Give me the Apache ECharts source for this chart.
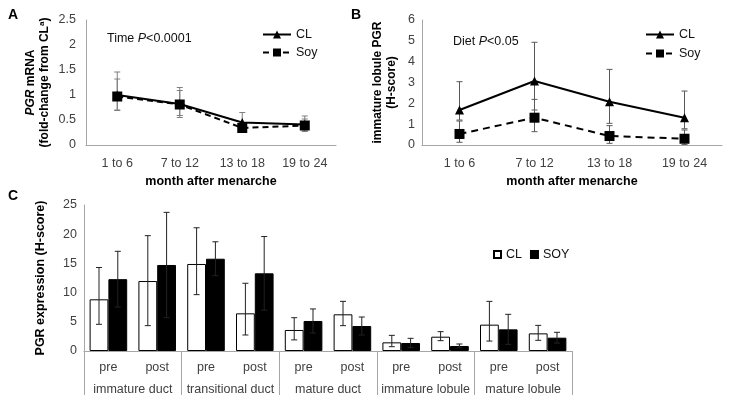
<!DOCTYPE html>
<html><head><meta charset="utf-8">
<script src="https://cdn.jsdelivr.net/npm/echarts@6/dist/echarts.min.js"></script>
<style>html,body{margin:0;padding:0;background:#fff}#c{width:731px;height:403px}</style>
</head><body><div id="c"></div>
<script>
// ---------- Data ----------
const monthCats = ['1 to 6', '7 to 12', '13 to 18', '19 to 24'];

// Panel A: PGR mRNA (fold-change from CL)
const aCL = [1.00, 0.82, 0.45, 0.41];
const aCLHi = [1.46, 1.15, 0.65, 0.58];
const aCLLo = [0.69, 0.55, 0.27, 0.28];
const aSoy = [0.97, 0.81, 0.34, 0.39];
const aSoyHi = [1.32, 1.09, 0.43, 0.52];
const aSoyLo = [0.70, 0.59, 0.25, 0.27];

// Panel B: immature lobule PGR (H-score)
const bCL = [1.68, 3.07, 2.08, 1.31];
const bCLHi = [3.04, 4.93, 3.63, 2.59];
const bCLLo = [1.20, 1.68, 1.04, 0.78];
const bSoy = [0.53, 1.31, 0.43, 0.30];
const bSoyHi = [1.15, 2.19, 0.93, 0.72];
const bSoyLo = [0.13, 0.64, 0.08, 0.02];

// Panel C: PGR expression (H-score)
const cGroups = ['immature duct', 'transitional duct', 'mature duct', 'immature lobule', 'mature lobule'];
const cSub = ['pre', 'post', 'pre', 'post', 'pre', 'post', 'pre', 'post', 'pre', 'post'];
const cCL = [8.85, 11.98, 14.9, 6.45, 3.6, 6.28, 1.48, 2.45, 4.51, 3.02];
const cCLHi = [14.3, 19.75, 21.1, 11.6, 5.7, 8.5, 2.68, 3.31, 8.5, 4.39];
const cCLLo = [4.57, 4.34, 9.65, 2.74, 1.9, 4.34, 0.74, 1.77, 1.7, 1.83];
const cSoy = [12.3, 14.73, 15.8, 13.3, 5.14, 4.28, 1.37, 0.86, 3.71, 2.28];
const cSoyHi = [17.07, 23.74, 18.7, 19.6, 7.2, 5.82, 2.17, 1.2, 6.28, 3.2];

// ---------- Chart ----------
const FF = 'Liberation Sans, Arial, sans-serif';
const AX = '#a6a6a6';
const TXT = '#404040';

function errData(lo, hi) { return lo.map((l, i) => [i, l, hi[i]]); }
function errRender(offsetFrac, cap, color, lw) {
  return function (params, api) {
    const i = api.value(0);
    const pHi = api.coord([i, api.value(2)]);
    const pLo = api.coord([i, api.value(1)]);
    const dx = offsetFrac ? api.size([1, 0])[0] * offsetFrac : 0;
    const x = pHi[0] + dx;
    const st = { stroke: color, lineWidth: lw };
    return {
      type: 'group', children: [
        { type: 'line', shape: { x1: x, y1: pHi[1], x2: x, y2: pLo[1] }, style: st },
        { type: 'line', shape: { x1: x - cap, y1: pHi[1], x2: x + cap, y2: pHi[1] }, style: st },
        { type: 'line', shape: { x1: x - cap, y1: pLo[1], x2: x + cap, y2: pLo[1] }, style: st }
      ]
    };
  };
}
function soyLo(v, hi) { return v.map((x, i) => Math.max(0, 2 * x - hi[i])); }

const labelStyle = { color: TXT, fontSize: 12.5, fontFamily: FF };
const nameStyleBold = { color: '#000', fontSize: 12.5, fontWeight: 'bold', fontFamily: FF };
const yNameStyle = { color: '#000', fontSize: 12, fontWeight: 'bold', fontFamily: FF, lineHeight: 14 };
const letterStyle = { fontSize: 14, fontWeight: 'bold', fontFamily: FF, color: '#000' };
const noteStyle = { fontSize: 12.5, fontWeight: 'normal', fontFamily: FF, color: '#111',
  rich: { i: { fontStyle: 'italic', fontSize: 12.5, fontFamily: FF, color: '#111' } } };

const option = {
  animation: false,
  textStyle: { fontFamily: FF },
  title: [
    { text: 'A', left: 3, top: 3, textStyle: letterStyle },
    { text: 'B', left: 346, top: 3, textStyle: letterStyle },
    { text: 'C', left: 3, top: 184, textStyle: letterStyle },
    { text: 'Time {i|P}<0.0001', left: 102, top: 27, textStyle: noteStyle },
    { text: 'Diet {i|P}<0.05', left: 448, top: 30, textStyle: noteStyle }
  ],
  legend: [
    { data: ['CL', 'Soy'], orient: 'vertical', left: 257, top: 23, itemWidth: 28, itemHeight: 10, itemGap: 5,
      textStyle: { fontSize: 12.5, color: '#111', fontFamily: FF } },
    { data: ['CL', 'Soy'], orient: 'vertical', left: 640, top: 23, itemWidth: 28, itemHeight: 10, itemGap: 6,
      textStyle: { fontSize: 12.5, color: '#111', fontFamily: FF } },
    { data: ['cCL', 'cSOY'], left: 488, top: 243, itemWidth: 7, itemHeight: 7, itemGap: 8, icon: 'rect',
      formatter: n => n.slice(1), textStyle: { fontSize: 12.5, color: '#111', fontFamily: FF } }
  ],
  grid: [
    { left: 86, top: 20, width: 250, height: 125 },
    { left: 422, top: 20, width: 300, height: 125 },
    { left: 84, top: 205, width: 488, height: 146 }
  ],
  xAxis: [
    { gridIndex: 0, type: 'category', data: monthCats, axisLine: { lineStyle: { color: AX } }, axisTick: { show: false },
      axisLabel: Object.assign({ margin: 12 }, labelStyle),
      name: 'month after menarche', nameLocation: 'middle', nameGap: 30, nameTextStyle: nameStyleBold },
    { gridIndex: 1, type: 'category', data: monthCats, axisLine: { lineStyle: { color: AX } }, axisTick: { show: false },
      axisLabel: Object.assign({ margin: 12 }, labelStyle),
      name: 'month after menarche', nameLocation: 'middle', nameGap: 30, nameTextStyle: nameStyleBold },
    { gridIndex: 2, type: 'category', data: cSub, axisLine: { lineStyle: { color: AX } }, axisTick: { show: false },
      axisLabel: Object.assign({ margin: 10, interval: 0 }, labelStyle) },
    { gridIndex: 2, type: 'category', data: cGroups, position: 'bottom', axisLine: { show: false },
      axisTick: { show: true, interval: 0, length: 44, lineStyle: { color: AX } },
      axisLabel: Object.assign({ margin: 32, interval: 0 }, labelStyle) }
  ],
  yAxis: [
    { gridIndex: 0, type: 'value', min: 0, max: 2.5, interval: 0.5, splitLine: { show: false },
      axisLine: { show: true, lineStyle: { color: AX } }, axisTick: { show: false },
      axisLabel: Object.assign({ margin: 10 }, labelStyle),
      name: '{i|PGR} mRNA\n(fold-change from CL{s|a})', nameLocation: 'middle', nameGap: 34, nameRotate: 90,
      nameTextStyle: Object.assign({ rich: {
        i: { fontStyle: 'italic', fontWeight: 'bold', fontSize: 12, fontFamily: FF, color: '#000' },
        s: { fontSize: 8, fontWeight: 'bold', verticalAlign: 'top', fontFamily: FF, color: '#000', padding: [0, 0, 6, 0] } } }, yNameStyle) },
    { gridIndex: 1, type: 'value', min: 0, max: 6, interval: 1, splitLine: { show: false },
      axisLine: { show: true, lineStyle: { color: AX } }, axisTick: { show: false },
      axisLabel: Object.assign({ margin: 7 }, labelStyle),
      name: 'immature lobule PGR\n(H-score)', nameLocation: 'middle', nameGap: 23, nameRotate: 90,
      nameTextStyle: yNameStyle },
    { gridIndex: 2, type: 'value', min: 0, max: 25, interval: 5, splitLine: { show: false },
      axisLine: { show: true, lineStyle: { color: AX } }, axisTick: { show: false },
      axisLabel: Object.assign({ margin: 7 }, labelStyle),
      name: 'PGR expression (H-score)', nameLocation: 'middle', nameGap: 37, nameRotate: 90,
      nameTextStyle: nameStyleBold }
  ],
  series: [
    // Panel A
    { type: 'custom', name: 'aErrCL', xAxisIndex: 0, yAxisIndex: 0, data: errData(aCLLo, aCLHi),
      renderItem: errRender(0, 3, '#7f7f7f', 1), encode: { x: 0, y: [1, 2] }, z: 1 },
    { type: 'custom', name: 'aErrSoy', xAxisIndex: 0, yAxisIndex: 0, data: errData(aSoyLo, aSoyHi),
      renderItem: errRender(0, 3, '#7f7f7f', 1), encode: { x: 0, y: [1, 2] }, z: 1 },
    { type: 'line', name: 'CL', xAxisIndex: 0, yAxisIndex: 0, data: aCL, symbol: 'triangle', symbolSize: 9,
      lineStyle: { color: '#000', width: 2 }, itemStyle: { color: '#000' }, z: 3 },
    { type: 'line', name: 'Soy', xAxisIndex: 0, yAxisIndex: 0, data: aSoy, symbol: 'rect', symbolSize: 10,
      lineStyle: { color: '#000', width: 2, type: [6, 4] }, itemStyle: { color: '#000' }, z: 4 },
    // Panel B
    { type: 'custom', name: 'bErrCL', xAxisIndex: 1, yAxisIndex: 1, data: errData(bCLLo, bCLHi),
      renderItem: errRender(0, 3, '#595959', 1), encode: { x: 0, y: [1, 2] }, z: 1 },
    { type: 'custom', name: 'bErrSoy', xAxisIndex: 1, yAxisIndex: 1, data: errData(bSoyLo, bSoyHi),
      renderItem: errRender(0, 3, '#595959', 1), encode: { x: 0, y: [1, 2] }, z: 1 },
    { type: 'line', name: 'CL', xAxisIndex: 1, yAxisIndex: 1, data: bCL, symbol: 'triangle', symbolSize: 9,
      lineStyle: { color: '#000', width: 2 }, itemStyle: { color: '#000' }, z: 3 },
    { type: 'line', name: 'Soy', xAxisIndex: 1, yAxisIndex: 1, data: bSoy, symbol: 'rect', symbolSize: 10,
      lineStyle: { color: '#000', width: 2, type: [7, 5] }, itemStyle: { color: '#000' }, z: 4 },
    // Panel C
    { type: 'bar', name: 'cCL', xAxisIndex: 2, yAxisIndex: 2, data: cCL, barGap: '0%', barCategoryGap: '23%',
      itemStyle: { color: '#fff', borderColor: '#000', borderWidth: 1 }, z: 2 },
    { type: 'bar', name: 'cSOY', xAxisIndex: 2, yAxisIndex: 2, data: cSoy, barGap: '0%', barCategoryGap: '23%',
      itemStyle: { color: '#000', borderColor: '#000', borderWidth: 1 }, z: 2 },
    { type: 'custom', name: 'cErrCL', xAxisIndex: 2, yAxisIndex: 2, data: errData(cCLLo, cCLHi),
      renderItem: errRender(-0.1925, 3, '#222', 1), encode: { x: 0, y: [1, 2] }, z: 5 },
    { type: 'custom', name: 'cErrSoy', xAxisIndex: 2, yAxisIndex: 2, data: errData(soyLo(cSoy, cSoyHi), cSoyHi),
      renderItem: errRender(0.1925, 3, '#222', 1), encode: { x: 0, y: [1, 2] }, z: 5 }
  ]
};
const chart = echarts.init(document.getElementById('c'), null, { renderer: 'canvas' });
chart.setOption(option);
</script></body></html>
